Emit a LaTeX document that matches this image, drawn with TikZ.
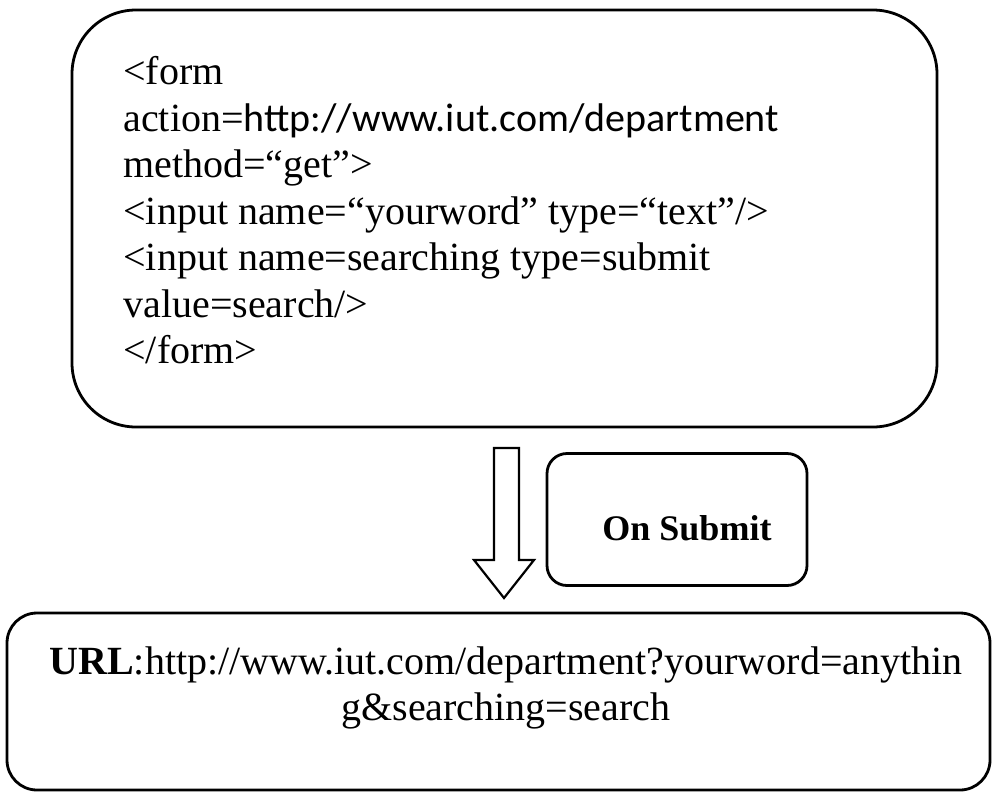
\documentclass[tikz,border=0pt]{standalone}
\usepackage{fontspec}
\setmainfont{Liberation Serif}
\newfontfamily\calibri{Carlito}

\tikzset{
  roundbox/.style={draw, line width=1.4pt, rounded corners=#1, inner sep=0pt},
  codetext/.style={inner sep=0pt, align=left, font=\fontsize{20}{23.25}\selectfont},
}

\begin{document}
\begin{tikzpicture}[x=0.5pt,y=-0.5pt]
                \useasboundingbox (0,0) rectangle (995,793);

                \draw[roundbox=32pt] (72,10) rectangle (937,427);
                \node (formbox) at (504.5,218.5) [minimum width=432.5pt, minimum height=208.5pt] {};
                \node (formcode) at (123,56) [codetext, anchor=north west] {%
                  <form\\
                  action={\calibri http://www.iut.com/department}\\
                  method=“get”>\\
                  <input name=“yourword” type=“text”/>\\
                  <input name=searching type=submit\\
                  value=search/>\\
                  </form>};

                \node (submit) at (677,519.5) [roundbox=10pt, minimum width=130pt, minimum height=66pt]
                      {\fontsize{18}{21}\selectfont\hspace*{10pt}\rule{0pt}{21pt}\textbf{On Submit}};

                \draw[roundbox=15pt] (7,613) rectangle (990,790);
                \node (urlbox) at (498.5,701.5) [minimum width=491.5pt, minimum height=88.5pt] {};
                \node (url) at (506,688) [codetext, align=center] {%
                  \textbf{URL}:http://www.iut.com/department?yourword=anythin\\
                  g\&searching=search};

                % block arrow
                \draw[line width=1.1pt] (494,448) -- (519,448) -- (519,560) -- (534,560) -- (504,598)
                      -- (474,560) -- (494,560) -- cycle;
            \end{tikzpicture}
\end{document}
